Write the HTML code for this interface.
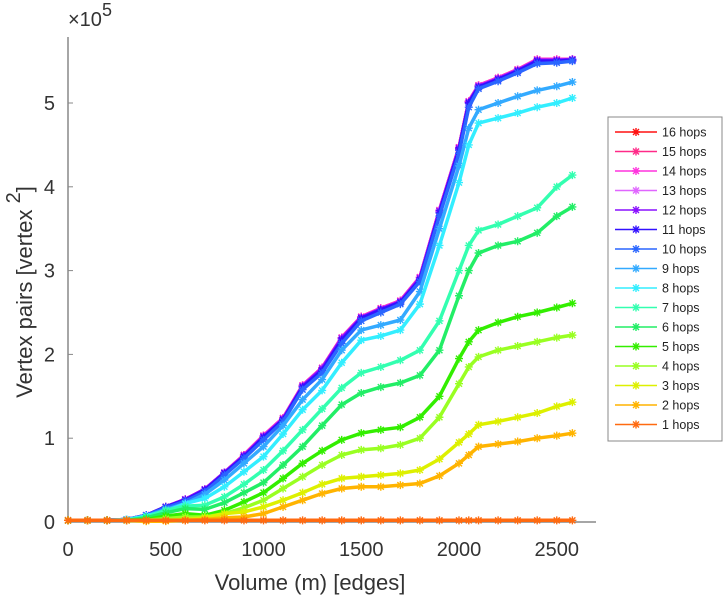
<!DOCTYPE html>
<html><head><meta charset="utf-8"><style>
body{margin:0;background:#fff;}
svg text{font-family:"Liberation Sans",sans-serif;}
</style></head><body>
<svg id="chart" width="728" height="600" viewBox="0 0 728 600">
<g id="axes"></g><g id="plot"></g><g id="legend"></g>
</svg>
<script>
const xVals=[0,100,200,300,400,500,600,700,800,900,1000,1100,1200,1300,1400,1500,1600,1700,1800,1900,2000,2050,2100,2200,2300,2400,2500,2580];
const hops1=[0.02,0.02,0.02,0.02,0.02,0.02,0.02,0.02,0.02,0.02,0.02,0.02,0.02,0.02,0.02,0.02,0.02,0.02,0.02,0.02,0.02,0.02,0.02,0.02,0.02,0.02,0.02,0.02];
const hops2=[0.02,0.02,0.02,0.02,0.01,0.01,0.02,0.03,0.05,0.06,0.1,0.18,0.26,0.34,0.4,0.42,0.42,0.44,0.46,0.55,0.7,0.8,0.9,0.93,0.96,1.0,1.03,1.06];
const hops3=[0.02,0.02,0.02,0.02,0.01,0.02,0.03,0.05,0.1,0.12,0.18,0.26,0.35,0.45,0.52,0.54,0.56,0.58,0.62,0.75,0.95,1.05,1.16,1.2,1.25,1.3,1.38,1.43];
const hops4=[0.02,0.02,0.02,0.02,0.02,0.04,0.06,0.06,0.1,0.17,0.26,0.4,0.54,0.68,0.8,0.86,0.88,0.92,1.0,1.25,1.65,1.85,1.97,2.05,2.1,2.15,2.2,2.23];
const hops5=[0.02,0.02,0.02,0.02,0.03,0.07,0.1,0.08,0.14,0.24,0.35,0.52,0.7,0.85,0.98,1.06,1.1,1.13,1.25,1.5,1.95,2.15,2.29,2.38,2.45,2.5,2.56,2.61];
const hops6=[0.02,0.02,0.02,0.02,0.05,0.11,0.16,0.15,0.23,0.35,0.47,0.68,0.9,1.15,1.4,1.54,1.61,1.66,1.75,2.05,2.7,3.0,3.21,3.3,3.35,3.45,3.65,3.76];
const hops7=[0.02,0.02,0.02,0.02,0.06,0.14,0.19,0.2,0.3,0.45,0.62,0.85,1.1,1.35,1.6,1.78,1.85,1.93,2.05,2.4,3.0,3.3,3.48,3.55,3.65,3.75,4.0,4.14];
const hops8=[0.02,0.02,0.02,0.03,0.07,0.13,0.22,0.28,0.42,0.6,0.78,1.05,1.34,1.57,1.9,2.17,2.22,2.29,2.6,3.3,4.05,4.5,4.76,4.82,4.88,4.95,5.0,5.06];
const hops9=[0.02,0.02,0.02,0.03,0.07,0.15,0.22,0.33,0.5,0.7,0.9,1.15,1.46,1.7,2.05,2.29,2.35,2.41,2.75,3.5,4.25,4.7,4.92,5.0,5.08,5.15,5.2,5.25];
const hops10=[0.02,0.02,0.02,0.03,0.08,0.17,0.25,0.36,0.56,0.76,0.98,1.2,1.58,1.78,2.13,2.4,2.5,2.6,2.87,3.65,4.4,4.95,5.17,5.26,5.36,5.47,5.48,5.5];
const hops11=[0.02,0.02,0.02,0.03,0.08,0.18,0.26,0.38,0.58,0.78,1.01,1.22,1.61,1.81,2.17,2.43,2.53,2.62,2.89,3.69,4.44,5.0,5.19,5.28,5.38,5.5,5.5,5.51];
const hops12=[0.02,0.02,0.02,0.03,0.08,0.18,0.27,0.39,0.59,0.79,1.02,1.23,1.62,1.83,2.19,2.44,2.54,2.63,2.91,3.71,4.46,5.01,5.2,5.29,5.39,5.51,5.51,5.52];
const hops13=[0.02,0.02,0.02,0.03,0.08,0.18,0.27,0.39,0.59,0.79,1.02,1.23,1.62,1.83,2.19,2.44,2.54,2.63,2.91,3.71,4.46,5.01,5.2,5.29,5.39,5.51,5.51,5.52];
const hops14=[0.02,0.02,0.02,0.03,0.08,0.18,0.27,0.39,0.59,0.8,1.03,1.24,1.63,1.84,2.2,2.45,2.55,2.64,2.92,3.72,4.47,5.02,5.21,5.3,5.4,5.52,5.52,5.52];
const hops15=[0.02,0.02,0.02,0.03,0.08,0.18,0.27,0.39,0.59,0.8,1.03,1.24,1.63,1.84,2.2,2.45,2.55,2.64,2.92,3.72,4.47,5.02,5.21,5.3,5.4,5.52,5.52,5.52];
const hops16=[0.02,0.02,0.02,0.03,0.08,0.18,0.27,0.39,0.59,0.8,1.03,1.24,1.63,1.84,2.2,2.45,2.55,2.64,2.92,3.72,4.47,5.02,5.21,5.3,5.4,5.52,5.52,5.52];
const seriesLabels=["1 hops","2 hops","3 hops","4 hops","5 hops","6 hops","7 hops","8 hops","9 hops","10 hops","11 hops","12 hops","13 hops","14 hops","15 hops","16 hops"];
const xTicks=[0,500,1000,1500,2000,2500];
const yTicks=[0,1,2,3,4,5];
const series=[hops1,hops2,hops3,hops4,hops5,hops6,hops7,hops8,hops9,hops10,hops11,hops12,hops13,hops14,hops15,hops16];
const colors=["#ff6a10","#ffb400","#ddf000","#99ff22","#33ee00","#22ee66","#33ffb0","#33eeff","#33aaff","#2a66ff","#3311ff","#8a10ff","#e066ff","#ff33dd","#ff2a88","#ff1111"];
const NS="http://www.w3.org/2000/svg";
const X0=68,Y0=522,XS=0.1955,YS=83.8;
function sx(v){return X0+v*XS;}
function sy(v){return Y0-v*YS;}
function mk(tag,attrs,parent){const e=document.createElementNS(NS,tag);for(const k in attrs)e.setAttribute(k,attrs[k]);parent.appendChild(e);return e;}
const axes=document.getElementById('axes'),plot=document.getElementById('plot'),leg=document.getElementById('legend');
let a=mk('line',{x1:X0,y1:Y0,x2:596,y2:Y0,stroke:'#888','stroke-width':1.5},axes);


a=mk('line',{x1:X0,y1:Y0,x2:X0,y2:37,stroke:'#888','stroke-width':1.5},axes);


xTicks.forEach(t=>{
 const l=mk('line',{x1:sx(t),y1:Y0,x2:sx(t),y2:Y0-5,stroke:'#888'},axes);
 
 
 const tx=mk('text',{x:sx(t),y:556,'text-anchor':'middle','font-size':20,fill:'#333'},axes);
 tx.textContent=t;
 
 
});
yTicks.forEach(t=>{
 const l=mk('line',{x1:X0,y1:sy(t),x2:X0+5,y2:sy(t),stroke:'#888'},axes);
 
 
 const tx=mk('text',{x:55,y:sy(t)+7,'text-anchor':'end','font-size':20,fill:'#333'},axes);
 tx.textContent=t;
 
 
});
function star(g,x,y,c){
 const p=mk('path',{d:`M${x-4} ${y}H${x+4}M${x} ${y-4}V${y+4}M${x-3} ${y-3}L${x+3} ${y+3}M${x-3} ${y+3}L${x+3} ${y-3}`,stroke:c,'stroke-width':1.4,fill:'none'},g);
 return p;
}
for(let i=series.length-1;i>=0;i--){
 const g=mk('g',{},plot);
 
 
 const d=series[i].map((v,j)=>(j?'L':'M')+sx(xVals[j]).toFixed(1)+' '+sy(v).toFixed(1)).join('');
 mk('path',{d:d,stroke:colors[i],'stroke-width':3.5,fill:'none','stroke-linejoin':'round'},g);
 series[i].forEach((v,j)=>{const s=star(g,sx(xVals[j]),sy(v),colors[i]);
  
  });
}
const box=mk('rect',{x:608,y:117,width:114,height:324,fill:'#fff',stroke:'#888'},leg);


for(let k=0;k<16;k++){
 const i=15-k;const y=132+k*19.5;
 const g=mk('g',{},leg);
 
 
 mk('line',{x1:615,y1:y,x2:657,y2:y,stroke:colors[i],'stroke-width':1.5},g);
 star(g,636,y,colors[i]);
 const t=mk('text',{x:662,y:y+4.5,'font-size':12.5,fill:'#222'},g);
 t.textContent=seriesLabels[i];
}
</script>
<svg width="728" height="600" style="position:absolute;left:0;top:0">
<text x="68" y="26" font-size="20" fill="#333" font-family="Liberation Sans,sans-serif">×10<tspan dy="-10" font-size="18">5</tspan></text>
<text x="310" y="590" text-anchor="middle" font-size="22" fill="#333" font-family="Liberation Sans,sans-serif">Volume (m) [edges]</text>
<text transform="translate(32,292) rotate(-90)" text-anchor="middle" font-size="22" fill="#333" font-family="Liberation Sans,sans-serif">Vertex pairs [vertex <tspan dy="-12" font-size="20">2</tspan><tspan dy="12">]</tspan></text>
</svg>
</body></html>
